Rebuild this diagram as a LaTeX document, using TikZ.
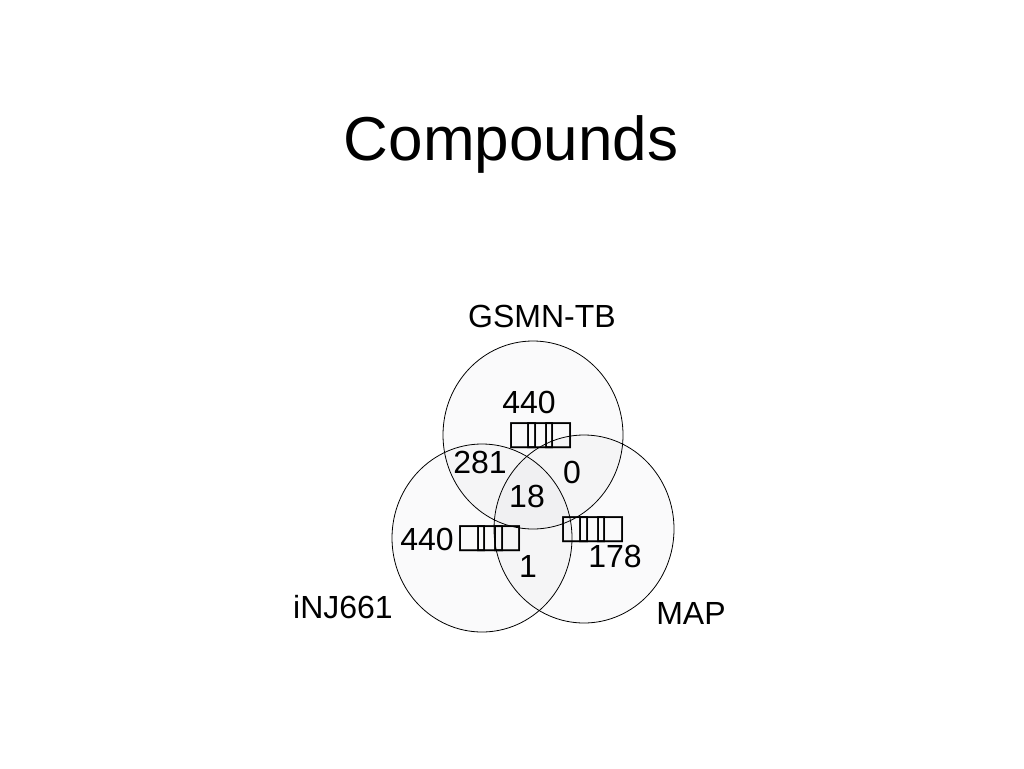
\documentclass[tikz,border=0pt]{standalone}
\usepackage{fontspec}
\setmainfont{Liberation Sans}
\newfontfamily\boxfont{DejaVu Sans}
\newcommand\tofu{\boxfont\makebox[17.5pt][l]{□}\makebox[17.5pt][l]{□}□}
\begin{document}
\begin{tikzpicture}[x=1pt,y=-1pt,
    setcircle/.style={draw=black, line width=0.8pt, fill=blue!15!black, fill opacity=0.018},
    cnt/.style={anchor=base, inner sep=0pt, font=\fontsize{32}{36}\selectfont},
    tofubox/.style={anchor=center, inner sep=0pt, font=\fontsize{34}{34}\selectfont}]
  \useasboundingbox (0,0) rectangle (1024,768);
  % Title
  \node[anchor=base, inner sep=0pt, font=\fontsize{62}{70}\selectfont] (title) at (511,160) {Compounds};
  % Draw circles
  \draw[setcircle] (533,435) ellipse [x radius=90pt, y radius=94pt];
  \draw[setcircle] (482,538) ellipse [x radius=90pt, y radius=94pt];
  \draw[setcircle] (584,529) ellipse [x radius=90pt, y radius=94pt];
  % Set names
  \node[cnt] (gsmn) at (542,327) {GSMN-TB};
  \node[cnt] (inj) at (343,618) {iNJ661};
  \node[cnt] (map) at (691,624) {MAP};
  % Counts
  \node[cnt] (onlyg) at (529,413) {440};
  \node[cnt] (gi) at (480,473) {281};
  \node[cnt] (gm) at (572,483) {0};
  \node[cnt] (gim) at (527,507) {18};
  \node[cnt] (onlyi) at (427,550) {440};
  \node[cnt] (im) at (528,577) {1};
  \node[cnt] (onlym) at (615,567) {178};
  % Boxes
  \node[tofubox] (tofug) at (541,435.5) {\tofu};
  \node[tofubox] (tofui) at (490.5,538.5) {\tofu};
  \node[tofubox] (tofum) at (593,530) {\tofu};
\end{tikzpicture}
\end{document}
